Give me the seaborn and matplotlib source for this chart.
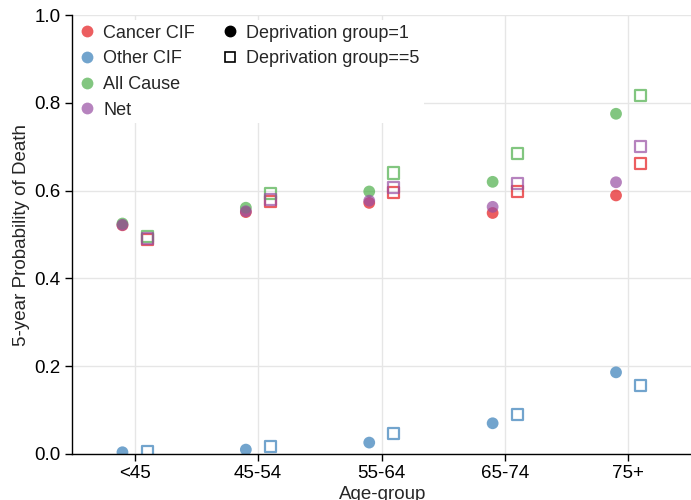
import numpy as np
import pandas as pd
import seaborn as sns
import matplotlib.pyplot as plt
from matplotlib.lines import Line2D

# Data
age_groups = ["<45", "45-54", "55-64", "65-74", "75+"]
measures = ["Cancer CIF", "Other CIF", "All Cause", "Net"]

# Deprivation group = 1 (filled circles)
cancer_dep1 = [0.521, 0.551, 0.572, 0.549, 0.589]
other_dep1 = [0.004, 0.010, 0.026, 0.070, 0.186]
allcause_dep1 = [0.525, 0.561, 0.598, 0.620, 0.775]
net_dep1 = [0.522, 0.553, 0.577, 0.563, 0.619]

# Deprivation group == 5 (open squares)
cancer_dep5 = [0.489, 0.575, 0.595, 0.598, 0.661]
other_dep5 = [0.006, 0.018, 0.046, 0.089, 0.156]
allcause_dep5 = [0.495, 0.593, 0.640, 0.685, 0.816]
net_dep5 = [0.490, 0.580, 0.607, 0.617, 0.700]

dep1 = dict(zip(measures, [cancer_dep1, other_dep1, allcause_dep1, net_dep1]))
dep5 = dict(zip(measures, [cancer_dep5, other_dep5, allcause_dep5, net_dep5]))


def long_frame(values, offset):
    rows = []
    for m in measures:
        for i, v in enumerate(values[m]):
            rows.append({"x": i + offset, "age": age_groups[i], "measure": m, "p": v})
    return pd.DataFrame(rows)


df1 = long_frame(dep1, -0.1)
df5 = long_frame(dep5, 0.1)

sns.set_theme(style="whitegrid")
plt.rcParams["font.family"] = ["Liberation Sans", "DejaVu Sans"]
plt.rcParams["font.size"] = 13

palette = dict(zip(measures, sns.color_palette("Set1", 4)))

fig = plt.figure(figsize=(6.91, 5.0), dpi=100)
ax = fig.add_axes([0.104, 0.092, 0.9, 0.878])

sns.scatterplot(data=df1, x="x", y="p", hue="measure", palette=palette,
                marker="o", s=72, alpha=0.7, linewidth=0, legend=False, ax=ax)
sns.scatterplot(data=df5, x="x", y="p", hue="measure", palette=palette,
                marker="s", s=64, alpha=0.7, linewidth=1.6, legend=False, ax=ax)
# make the group 5 squares hollow
sq = ax.collections[-1]
sq.set_edgecolors(sq.get_facecolors())
sq.set_facecolors("none")

ax.set_xticks(range(len(age_groups)))
ax.set_xticklabels(age_groups)
ax.set_xlim(-0.51, 4.53)
ax.set_ylim(0, 1.0)
ax.set_yticks([0.0, 0.2, 0.4, 0.6, 0.8, 1.0])
ax.set_yticklabels(["0.0", "0.2", "0.4", "0.6", "0.8", "1.0"])
ax.tick_params(axis="both", labelsize=13.5, length=5, width=1, color="black",
               direction="out", bottom=True, left=True, labelcolor="black", pad=3)
ax.grid(True, color="#e6e6e6", linewidth=1)
for side in ["top", "right"]:
    ax.spines[side].set_visible(False)
for side in ["left", "bottom"]:
    ax.spines[side].set_color("black")
    ax.spines[side].set_linewidth(1)
    ax.spines[side].set_zorder(6)

ax.set_xlabel("Age-group", fontsize=13.5, labelpad=3)
ax.set_ylabel("5-year Probability of Death", fontsize=13.5, labelpad=3)

# legend: hue in column 1, deprivation style in column 2
handles = [Line2D([], [], ls="", marker="o", ms=8.5, mec="none", alpha=0.7,
                  mfc=palette[m]) for m in measures]
labels = list(measures)
blank = Line2D([], [], ls="", marker="")
handles += [Line2D([], [], ls="", marker="o", ms=7.5, mfc="black", mec="black"),
            Line2D([], [], ls="", marker="s", ms=6.5, mfc="none", mec="black", mew=1.2),
            blank, blank]
labels += ["Deprivation group=1", "Deprivation group==5", "", ""]
leg = ax.legend(handles, labels, ncol=2, loc="upper left", bbox_to_anchor=(0.0, 0.988),
                borderaxespad=0, frameon=True, fancybox=False, framealpha=1,
                facecolor="white", edgecolor="none", fontsize=13,
                handletextpad=0.3, columnspacing=1.3, labelspacing=0.48,
                borderpad=0.25, handlelength=1.2)

fig.savefig("out.png", dpi=100)
